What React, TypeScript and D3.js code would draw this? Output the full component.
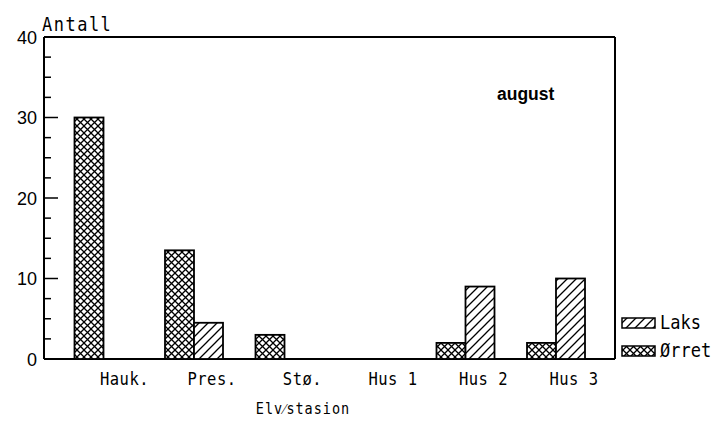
import React from "react";
import * as d3 from "d3";

const categories = ["Hauk.", "Pres.", "Stø.", "Hus 1", "Hus 2", "Hus 3"];
const orret = [30, 13.5, 3, 0, 2, 2];
const laks = [0, 4.5, 0, 0, 9, 10];
const majorTicks = [0, 10, 20, 30, 40];
const minorTicks = [2.5, 5, 7.5, 12.5, 15, 17.5, 22.5, 25, 27.5, 32.5, 35, 37.5];

const W = 719, H = 431;
const left = 44, right = 615, top = 37, bottom = 359;
const mono = "'DejaVu Sans Mono', monospace";

function Tall(props: { x: number; y: number; size: number; anchor?: string; ls?: number; children: React.ReactNode }) {
  const { x, y, size, anchor, ls, children } = props;
  return (
    <text
      transform={`translate(${x},${y}) scale(1,1.15)`}
      textAnchor={anchor || "start"}
      fontFamily={mono}
      fontSize={size}
      letterSpacing={ls || 0}
    >
      {children}
    </text>
  );
}

export default function App() {
  const y = d3.scaleLinear().domain([0, 40]).range([bottom, top]);
  const x = d3.scalePoint().domain(categories).range([103.5, 556]);
  const bw = 29;
  return (
    <svg width={W} height={H} style={{ position: "absolute", left: 0, top: 0, background: "#fff" }}>
      <defs>
        <pattern id="cross" patternUnits="userSpaceOnUse" width="7" height="7">
          <rect width="7" height="7" fill="#fff" />
          <path d="M0,0 L7,7 M7,0 L0,7" stroke="#000" strokeWidth="1.3" />
        </pattern>
        <pattern id="hatch" patternUnits="userSpaceOnUse" width="9" height="9">
          <rect width="9" height="9" fill="#fff" />
          <path d="M0,9 L9,0 M-2,2 L2,-2 M7,11 L11,7" stroke="#000" strokeWidth="1.3" />
        </pattern>
      </defs>
      {/* frame */}
      <line x1={left} x2={right} y1={top} y2={top} stroke="#000" strokeWidth={2} />
      <line x1={left} x2={left} y1={top} y2={bottom} stroke="#000" strokeWidth={2} />
      <line x1={right} x2={right} y1={top} y2={bottom} stroke="#000" strokeWidth={2} />
      <line x1={left} x2={right} y1={bottom} y2={bottom} stroke="#000" strokeWidth={2} />
      {majorTicks.map((t) => (
        <g key={"M" + t}>
          {t > 0 && t < 40 && <line x1={left} x2={left + 14} y1={y(t)} y2={y(t)} stroke="#000" strokeWidth={1.5} />}
          <text x={left - 7} y={y(t) + 6.5} textAnchor="end" fontFamily="'Liberation Sans', Arial, sans-serif" fontSize={18}>{t}</text>
        </g>
      ))}
      {minorTicks.map((t) => (
        <line key={"m" + t} x1={left} x2={left + 7} y1={y(t)} y2={y(t)} stroke="#000" strokeWidth={1.5} />
      ))}
      <Tall x={42} y={31} size={17} ls={1.5}>Antall</Tall>
      <text x={497} y={100} fontFamily="'Liberation Sans', Arial, sans-serif" fontWeight="bold" fontSize={17.5}>august</text>
      {categories.map((c, i) => {
        const cx = x(c)!;
        return (
          <g key={c}>
            {orret[i] > 0 && (
              <rect x={cx - bw} y={y(orret[i])} width={bw} height={y(0) - y(orret[i])} fill="url(#cross)" stroke="#000" strokeWidth={1.8} />
            )}
            {laks[i] > 0 && (
              <rect x={cx} y={y(laks[i])} width={bw} height={y(0) - y(laks[i])} fill="url(#hatch)" stroke="#000" strokeWidth={1.8} />
            )}
            <Tall x={cx + 18 + (i === 0 ? 3 : 0)} y={385} anchor="middle" size={15.5} ls={0.5}>{c}</Tall>
          </g>
        );
      })}
      <Tall x={303} y={414} anchor="middle" size={13.5} ls={1}>Elv⁄stasion</Tall>
      {/* legend */}
      <rect x={622} y={318} width={33} height={10} fill="url(#hatch)" stroke="#000" strokeWidth={1.5} />
      <Tall x={660} y={329} size={17}>Laks</Tall>
      <rect x={622} y={346} width={33} height={10} fill="url(#cross)" stroke="#000" strokeWidth={1.5} />
      <Tall x={660} y={357} size={17}>Ørret</Tall>
    </svg>
  );
}
